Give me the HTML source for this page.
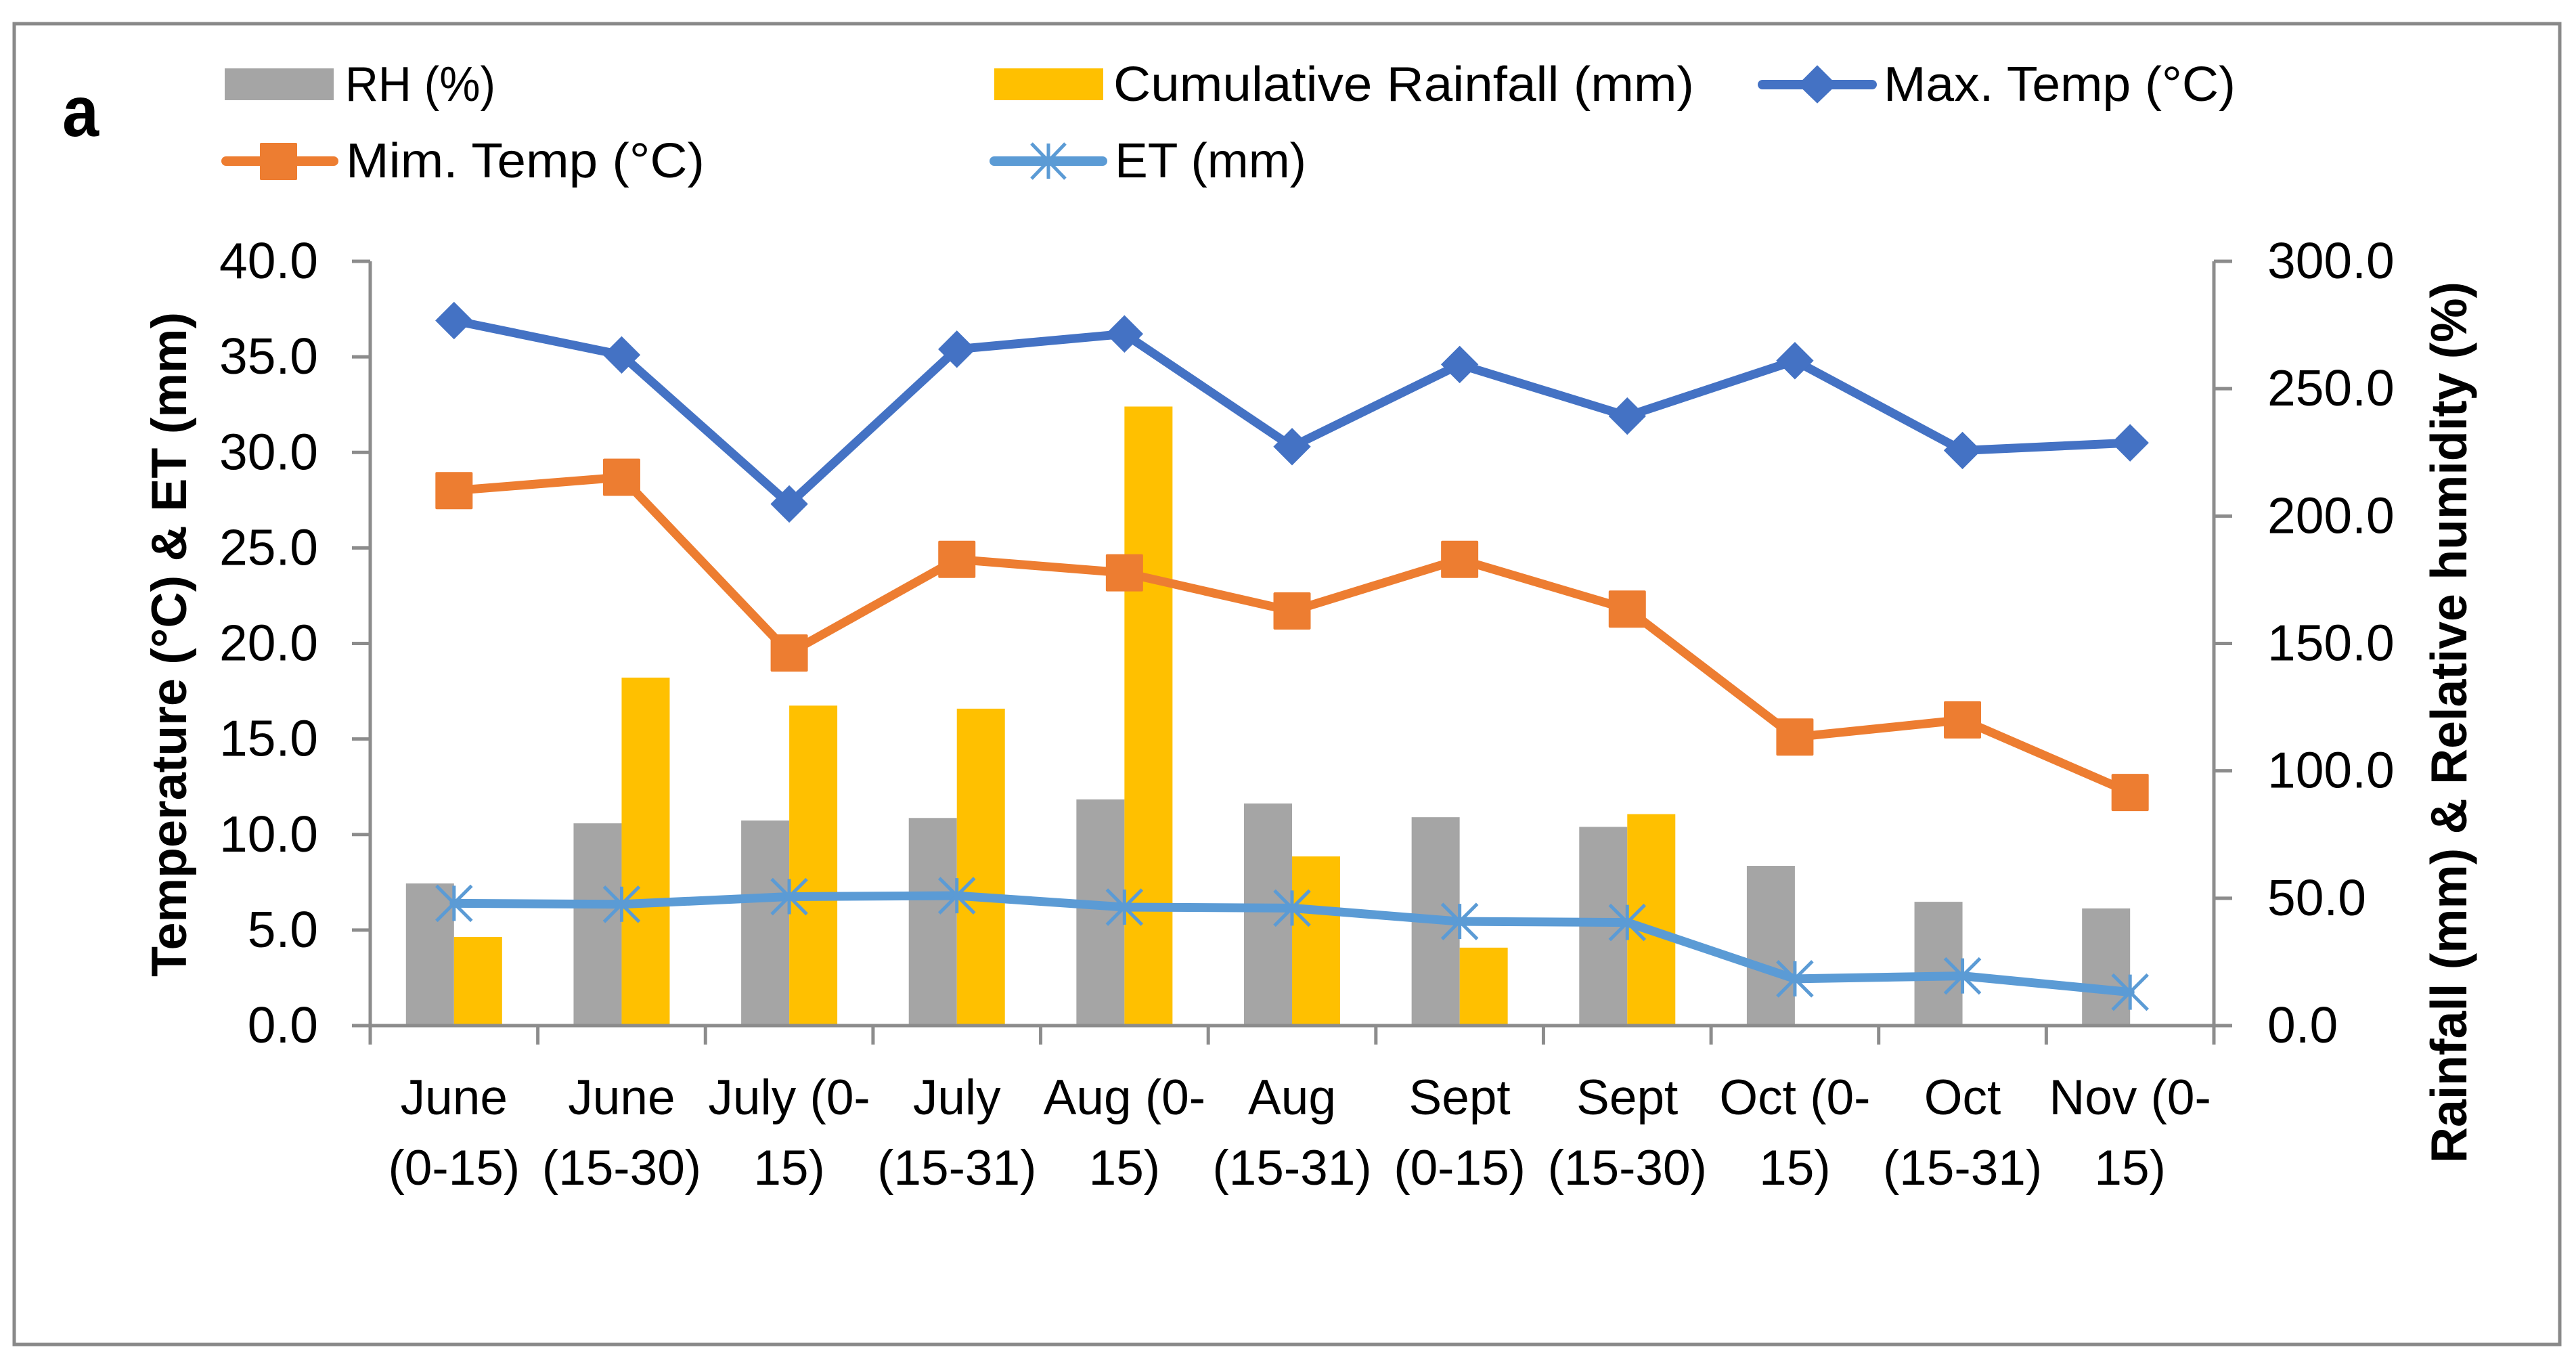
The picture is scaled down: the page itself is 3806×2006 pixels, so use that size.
<!DOCTYPE html>
<html>
<head>
<meta charset="utf-8">
<title>Weather chart</title>
<style>
html,body{margin:0;padding:0;background:#fff;}
svg{display:block;}
text{font-family:"Liberation Sans",sans-serif;fill:#000;}
</style>
</head>
<body>
<svg id="chart" xmlns="http://www.w3.org/2000/svg" width="3806" height="2006" viewBox="0 0 3806 2006">
  <rect x="0" y="0" width="3806" height="2006" fill="#fff"/>
  <rect x="21" y="35" width="3761" height="1951" fill="none" stroke="#898989" stroke-width="5"/>
  <text x="92" y="201" font-size="106" font-weight="bold" textLength="54" lengthAdjust="spacingAndGlyphs">a</text>

  <g>
    <g>
      <rect x="332" y="101" width="161" height="47" fill="#A5A5A5"/>
      <text x="510" y="149" font-size="72" textLength="222" lengthAdjust="spacingAndGlyphs">RH (%)</text>
    </g>
    <g>
      <rect x="1469" y="101" width="161" height="47" fill="#FFC000"/>
      <text x="1645" y="149" font-size="72" textLength="858" lengthAdjust="spacingAndGlyphs">Cumulative Rainfall (mm)</text>
    </g>
    <g>
      <line x1="2604" y1="125" x2="2766" y2="125" stroke="#4472C4" stroke-width="14" stroke-linecap="round"/>
      <polygon points="2685,97 2713,125 2685,152 2657,125" fill="#4472C4" stroke="#4472C4" stroke-width="1"/>
      <text x="2783" y="149" font-size="72" textLength="520" lengthAdjust="spacingAndGlyphs">Max. Temp (°C)</text>
    </g>
    <g>
      <line x1="334" y1="238" x2="493" y2="238" stroke="#ED7D31" stroke-width="14" stroke-linecap="round"/>
      <rect x="384" y="211" width="55" height="55" rx="2" fill="#ED7D31"/>
      <text x="511" y="262" font-size="72" textLength="530" lengthAdjust="spacingAndGlyphs">Mim. Temp (°C)</text>
    </g>
    <g>
      <line x1="1469" y1="238" x2="1629" y2="238" stroke="#5B9BD5" stroke-width="14" stroke-linecap="round"/>
      <path d="M1549 212V264M1524 212L1574 264M1574 212L1524 264" fill="none" stroke="#5B9BD5" stroke-width="5"/>
      <text x="1647" y="262" font-size="72" textLength="283" lengthAdjust="spacingAndGlyphs">ET (mm)</text>
    </g>
  </g>

  <text transform="translate(275,1443) rotate(-90)" font-size="73" font-weight="bold" textLength="982" lengthAdjust="spacingAndGlyphs">Temperature (°C) &amp; ET (mm)</text>
  <text transform="translate(3644,1718) rotate(-90)" font-size="75" font-weight="bold" textLength="1302" lengthAdjust="spacingAndGlyphs">Rainfall (mm) &amp; Relative humidity (%)</text>
</svg>
<script>
const categories = ["June\n(0-15)","June\n(15-30)","July (0-\n15)","July\n(15-31)","Aug (0-\n15)","Aug\n(15-31)","Sept\n(0-15)","Sept\n(15-30)","Oct (0-\n15)","Oct\n(15-31)","Nov (0-\n15)"];
const rhValues = [55.8,79.4,80.5,81.5,88.8,87.2,81.8,78,62.7,48.6,46];
const rainfallValues = [34.8,136.6,125.6,124.4,243,66.4,30.6,83,0,0,0];
const maxTempValues = [36.9,35.1,27.3,35.4,36.2,30.3,34.6,31.9,34.8,30.1,30.5];
const minTempValues = [28.0,28.7,19.5,24.4,23.7,21.7,24.4,21.8,15.1,16.0,12.2];
const etValues = [6.4,6.35,6.75,6.8,6.2,6.15,5.45,5.4,2.45,2.6,1.75];
const leftTicks = [0,5,10,15,20,25,30,35,40];
const rightTicks = [0,50,100,150,200,250,300];
const leftMax = 40;
const rightMax = 300;

const svg = document.getElementById('chart');
const NS = 'http://www.w3.org/2000/svg';
const plotLeft = 547, plotRight = 3271, plotTop = 386, plotBottom = 1515;
const catWidth = (plotRight - plotLeft) / categories.length;
const barWidth = 71;
function xCenter(i){ return plotLeft + (i + 0.5) * catWidth; }
function xEdge(i){ return plotLeft + i * catWidth; }
function yLeft(v){ return plotBottom - v / leftMax * (plotBottom - plotTop); }
function yRight(v){ return plotBottom - v / rightMax * (plotBottom - plotTop); }
function mk(tag, attrs){
  const e = document.createElementNS(NS, tag);
  for (const k in attrs) e.setAttribute(k, attrs[k]);
  svg.appendChild(e);
  return e;
}
const AXIS = '#8c8c8c';

// Bars
rhValues.forEach(function(v, i){
  const el = mk('rect', {x: xCenter(i) - barWidth, y: yRight(v), width: barWidth, height: plotBottom - yRight(v), fill: '#A5A5A5'});
  
  
});
rainfallValues.forEach(function(v, i){
  const el = mk('rect', {x: xCenter(i), y: yRight(v), width: barWidth, height: plotBottom - yRight(v), fill: '#FFC000'});
  
  
});

// Axes
const leftAxis = mk('line', {x1: plotLeft, y1: plotTop, x2: plotLeft, y2: 1543, stroke: AXIS, 'stroke-width': 5});


const rightAxis = mk('line', {x1: plotRight, y1: plotTop, x2: plotRight, y2: 1543, stroke: AXIS, 'stroke-width': 5});


const xAxis = mk('line', {x1: 520, y1: plotBottom, x2: plotRight + 27, y2: plotBottom, stroke: AXIS, 'stroke-width': 5});



leftTicks.forEach(function(v){
  const t = mk('line', {x1: 520, y1: yLeft(v), x2: plotLeft, y2: yLeft(v), stroke: AXIS, 'stroke-width': 5});
  
  
  const l = mk('text', {x: 470, y: yLeft(v) + 25, 'font-size': 75, 'text-anchor': 'end'});
  
  
  l.textContent = v.toFixed(1);
});
rightTicks.forEach(function(v){
  const t = mk('line', {x1: plotRight, y1: yRight(v), x2: plotRight + 27, y2: yRight(v), stroke: AXIS, 'stroke-width': 5});
  
  
  const l = mk('text', {x: 3350, y: yRight(v) + 25, 'font-size': 75});
  
  
  l.textContent = v.toFixed(1);
});
for (let i = 0; i <= categories.length; i++) {
  const t = mk('line', {x1: xEdge(i), y1: plotBottom, x2: xEdge(i), y2: 1543, stroke: AXIS, 'stroke-width': 5});
  
  
}
categories.forEach(function(c, i){
  c.split('\n').forEach(function(line, j){
    const l = mk('text', {x: xCenter(i), y: 1646 + j * 104, 'font-size': 73, 'text-anchor': 'middle'});
    
    
    l.textContent = line;
  });
});

// Lines
function polyPoints(values){
  return values.map(function(v, i){ return xCenter(i) + ',' + yLeft(v); }).join(' ');
}
const maxLine = mk('polyline', {points: polyPoints(maxTempValues), fill: 'none', stroke: '#4472C4', 'stroke-width': 13, 'stroke-linejoin': 'round', 'stroke-linecap': 'round'});


maxTempValues.forEach(function(v, i){
  const x = xCenter(i), y = yLeft(v);
  const m = mk('polygon', {points: [x + ',' + (y - 27), (x + 27) + ',' + y, x + ',' + (y + 27), (x - 27) + ',' + y].join(' '), fill: '#4472C4', stroke: '#4472C4', 'stroke-width': 1});
  
  
});

const minLine = mk('polyline', {points: polyPoints(minTempValues), fill: 'none', stroke: '#ED7D31', 'stroke-width': 13, 'stroke-linejoin': 'round', 'stroke-linecap': 'round'});


minTempValues.forEach(function(v, i){
  const m = mk('rect', {x: xCenter(i) - 27.5, y: yLeft(v) - 27.5, width: 55, height: 55, rx: 2, fill: '#ED7D31'});
  
  
});

const etLine = mk('polyline', {points: polyPoints(etValues), fill: 'none', stroke: '#5B9BD5', 'stroke-width': 13, 'stroke-linejoin': 'round', 'stroke-linecap': 'round'});


etValues.forEach(function(v, i){
  const x = xCenter(i), y = yLeft(v), r = 26;
  const d = 'M' + x + ' ' + (y - r) + 'V' + (y + r) +
            'M' + (x - r) + ' ' + (y - r) + 'L' + (x + r) + ' ' + (y + r) +
            'M' + (x + r) + ' ' + (y - r) + 'L' + (x - r) + ' ' + (y + r);
  const m = mk('path', {d: d, fill: 'none', stroke: '#5B9BD5', 'stroke-width': 5});
  
  
});
</script>
</body>
</html>
